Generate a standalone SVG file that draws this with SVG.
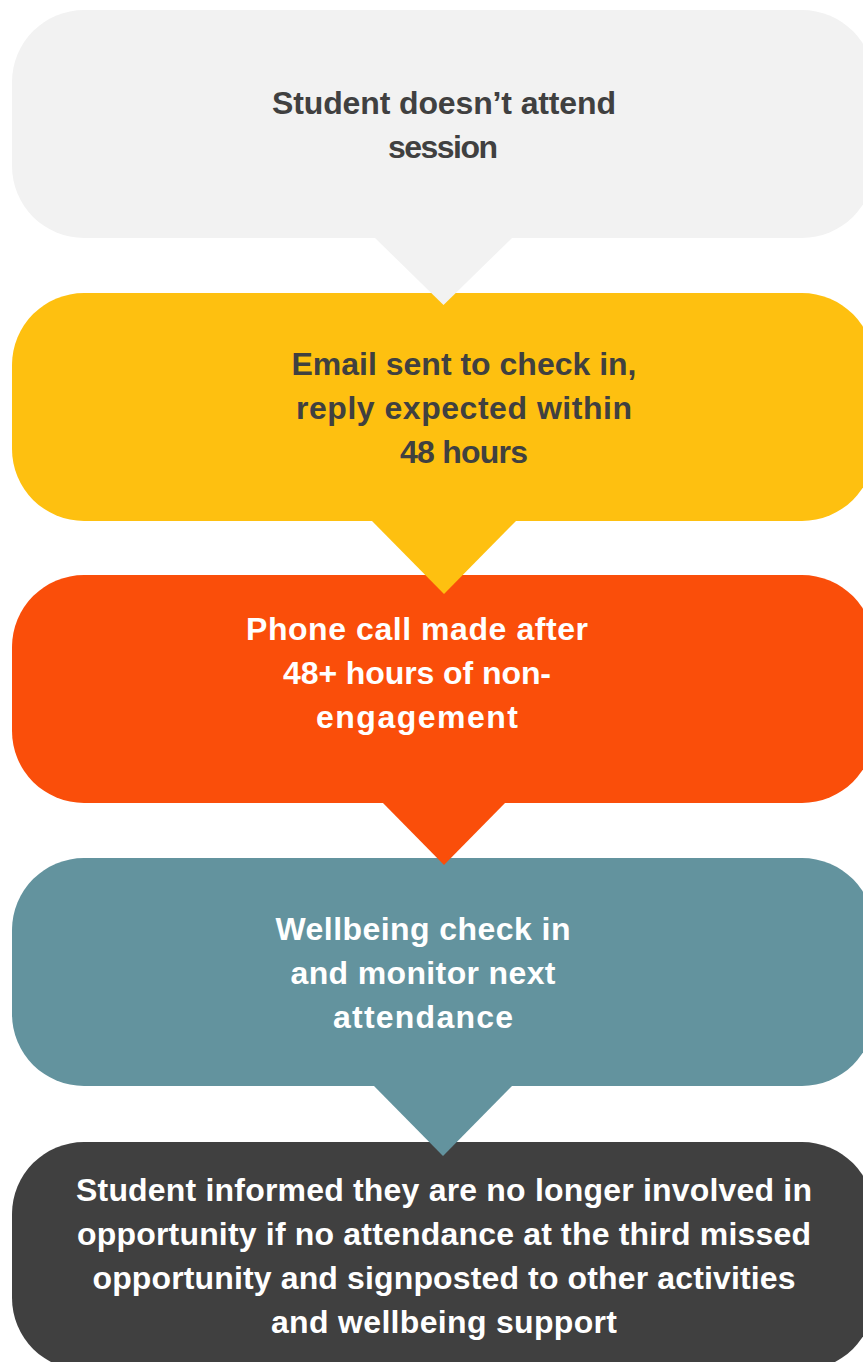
<svg xmlns="http://www.w3.org/2000/svg" width="863" height="1362" viewBox="0 0 863 1362">
  <style>
    .box { stroke: none; }
    .label { font-family: "Liberation Sans", Arial, sans-serif; font-weight: bold; font-size: 32px; text-anchor: middle; }
    .dark { fill: #404040; }
    .light { fill: #ffffff; }
    .c1 { fill: #f2f2f2; }
    .c2 { fill: #fec010; }
    .c3 { fill: #fa4e0a; }
    .c4 { fill: #63939e; }
    .c5 { fill: #404040; }
  </style>
  <rect width="863" height="1362" fill="#ffffff"/>

  <!-- step 1 -->
  <g id="step-no-attendance">
    <rect class="box c1" x="12" y="10" width="862" height="228" rx="72" ry="72"/>
    <text class="label dark" x="444" y="114" textLength="344">Student doesn’t attend</text>
    <text class="label dark" x="443" y="158" textLength="110">session</text>
  </g>

  <!-- step 2 -->
  <g id="step-email">
    <rect class="box c2" x="12" y="293" width="862" height="228" rx="72" ry="72"/>
    <text class="label dark" x="464" y="375" textLength="345">Email sent to check in,</text>
    <text class="label dark" x="464" y="419" textLength="336">reply expected within</text>
    <text class="label dark" x="464" y="463" textLength="128">48 hours</text>
  </g>

  <!-- step 3 -->
  <g id="step-phone-call">
    <rect class="box c3" x="12" y="575" width="862" height="228" rx="72" ry="72"/>
    <text class="label light" x="417" y="640" textLength="342">Phone call made after</text>
    <text class="label light" x="417" y="684" textLength="268">48+ hours of non-</text>
    <text class="label light" x="417" y="728" textLength="202">engagement</text>
  </g>

  <!-- step 4 -->
  <g id="step-wellbeing">
    <rect class="box c4" x="12" y="858" width="862" height="228" rx="72" ry="72"/>
    <text class="label light" x="423" y="940" textLength="295">Wellbeing check in</text>
    <text class="label light" x="423" y="984" textLength="265">and monitor next</text>
    <text class="label light" x="423" y="1028" textLength="180">attendance</text>
  </g>

  <!-- step 5 -->
  <g id="step-withdrawn">
    <rect class="box c5" x="12" y="1142" width="862" height="228" rx="72" ry="72"/>
    <text class="label light" x="444" y="1201" textLength="736">Student informed they are no longer involved in</text>
    <text class="label light" x="444" y="1245" textLength="734">opportunity if no attendance at the third missed</text>
    <text class="label light" x="444" y="1289" textLength="703">opportunity and signposted to other activities</text>
    <text class="label light" x="444" y="1333" textLength="346">and wellbeing support</text>
  </g>

  <!-- callout pointers linking each step to the next -->
  <g id="connectors">
    <path class="c1" d="M374 237 L443.5 305 L513 237 Z"/>
    <path class="c2" d="M371 520 L444 594 L517 520 Z"/>
    <path class="c3" d="M382 802 L444 865 L506 802 Z"/>
    <path class="c4" d="M373 1085 L443 1156 L513 1085 Z"/>
  </g>
</svg>
